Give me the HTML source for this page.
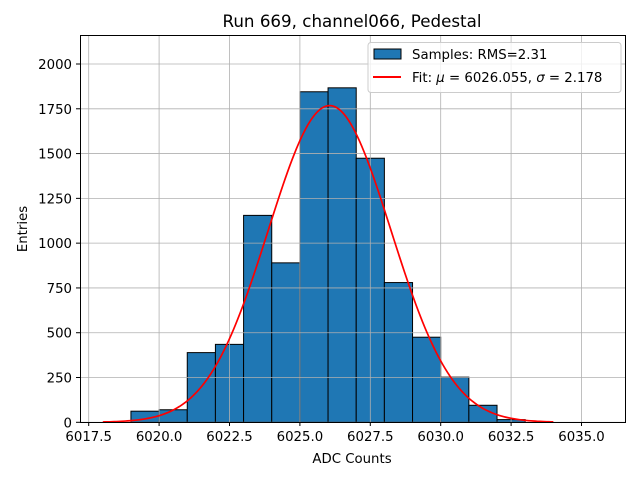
<!DOCTYPE html>
<html><head><meta charset="utf-8"><style>
body{margin:0;background:#fff;}
svg{display:block;font-family:"DejaVu Sans","Liberation Sans",sans-serif;}
</style></head><body>
<svg id="chart" width="640" height="480" xmlns="http://www.w3.org/2000/svg">
<rect width="640" height="480" fill="#fff"/>
<text x="352" y="27" font-size="16.7" text-anchor="middle">Run 669, channel066, Pedestal</text>
<g id="bars"></g><g id="grid"></g><g id="fit"></g><g id="axes"></g>
<rect x="80.5" y="35.5" width="545" height="387" fill="none" stroke="#000" stroke-width="1"/>
<text x="352" y="463" font-size="13.3" text-anchor="middle">ADC Counts</text>
<text transform="translate(27,229) rotate(-90)" font-size="13.3" text-anchor="middle">Entries</text>
<g>
<rect x="368" y="42.5" width="253" height="50" rx="3" fill="#fff" fill-opacity="0.8" stroke="#ccc"/>
<rect x="374" y="49" width="27" height="10" fill="#1f77b4" stroke="#000"/>
<text x="412" y="59" font-size="13.3">Samples: RMS=2.31</text>
<line x1="373" y1="77" x2="401" y2="77" stroke="red" stroke-width="2"/>
<text x="412" y="82" font-size="13.3">Fit: <tspan font-style="italic">μ</tspan> = 6026.055, <tspan font-style="italic">σ</tspan> = 2.178</text>
</g>
</svg>
<script>
const binStarts=[6019,6020,6021,6022,6023,6024,6025,6026,6027,6028,6029,6030,6031,6032];
const counts=[62,70,389,435,1155,890,1845,1867,1474,780,475,252,95,15];
const xTicks=[6017.5,6020.0,6022.5,6025.0,6027.5,6030.0,6032.5,6035.0];
const yTicks=[0,250,500,750,1000,1250,1500,1750,2000];
const fitMu=6026.055, fitSigma=2.178, fitAmp=1768, fitMin=6018, fitMax=6034;
const NS='http://www.w3.org/2000/svg';
const X=v=>88.7+(v-6017.5)*28.16;
const Y=v=>422.3-v*0.17915;
function mk(tag,attrs,parent){const e=document.createElementNS(NS,tag);for(const k in attrs)e.setAttribute(k,attrs[k]);document.getElementById(parent).appendChild(e);return e;}
xTicks.forEach(t=>{
 const l=mk('line',{x1:X(t),x2:X(t),y1:35,y2:422,stroke:'#b0b0b0','stroke-width':0.8},'grid');
 
 
 const k=mk('line',{x1:X(t),x2:X(t),y1:422,y2:426,stroke:'#000'},'axes');
 
 
 const tx=mk('text',{x:X(t),y:441,'font-size':13.3,'text-anchor':'middle'},'axes');
 tx.textContent=t.toFixed(1);
 
 
});
yTicks.forEach(t=>{
 const l=mk('line',{x1:80,x2:626,y1:Y(t),y2:Y(t),stroke:'#b0b0b0','stroke-width':0.8},'grid');
 
 
 const k=mk('line',{x1:76,x2:80,y1:Y(t),y2:Y(t),stroke:'#000'},'axes');
 
 
 const tx=mk('text',{x:72,y:Y(t)+5,'font-size':13.3,'text-anchor':'end'},'axes');
 tx.textContent=t;
 
 
});
binStarts.forEach((b,i)=>{
 const r=mk('rect',{x:X(b),y:Y(counts[i]),width:X(b+1)-X(b),height:Y(0)-Y(counts[i]),fill:'#1f77b4',stroke:'#000','stroke-width':1},'bars');
 
 
});
let d='';
for(let i=0;i<=200;i++){const x=fitMin+(fitMax-fitMin)*i/200;const y=fitAmp*Math.exp(-0.5*((x-fitMu)/fitSigma)**2);d+=(i?'L':'M')+X(x).toFixed(2)+','+Y(y).toFixed(2);}
const p=mk('path',{d:d,fill:'none',stroke:'red','stroke-width':1.7},'fit');


</script>
</body></html>
